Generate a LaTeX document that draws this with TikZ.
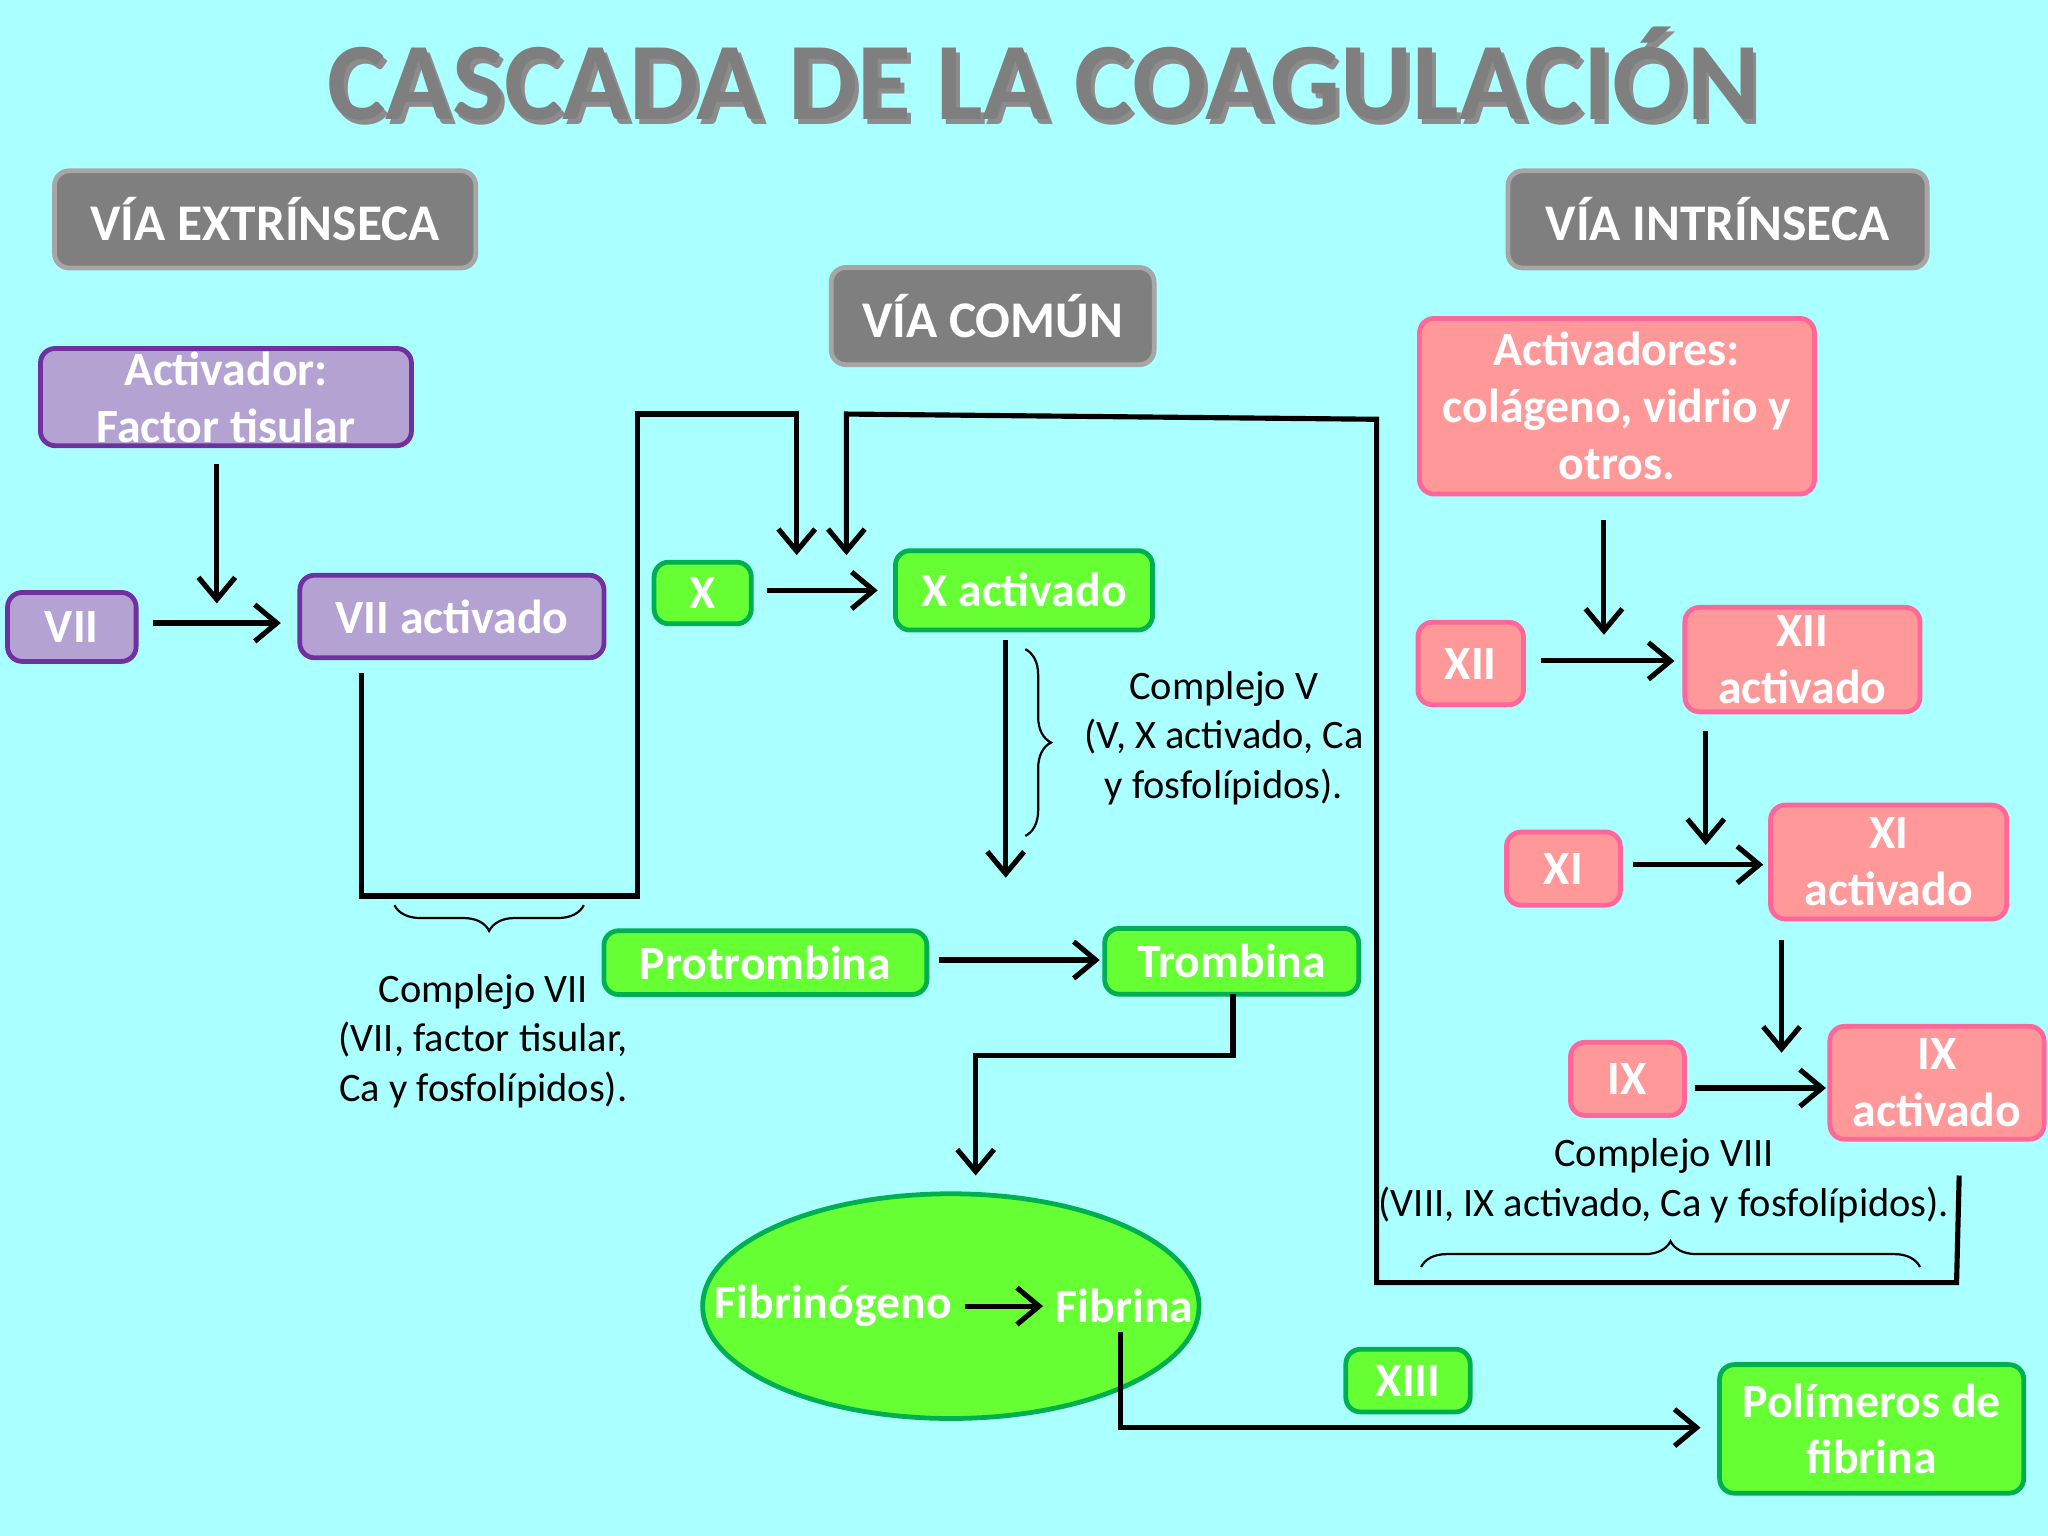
\documentclass[tikz,border=0pt]{standalone}
\usepackage{fontspec}
\setmainfont{Carlito}
\usetikzlibrary{arrows.meta,decorations.pathreplacing,shapes.geometric}
\definecolor{bgcyan}{HTML}{AAFFFF}
\definecolor{grayfill}{HTML}{7F7F7F}
\definecolor{grayline}{HTML}{A6A6A6}
\definecolor{lilac}{HTML}{B4A2D2}
\definecolor{purp}{HTML}{7030A0}
\definecolor{lime}{HTML}{66FF33}
\definecolor{dgreen}{HTML}{00B050}
\definecolor{rose}{HTML}{FF9999}
\definecolor{pinkline}{HTML}{FF6699}
\tikzset{
  box/.style={rounded corners=4pt, line width=1.3pt, align=center,
    text=white, font=\bfseries\fontsize{13}{15.5}\selectfont, inner sep=0pt},
  via/.style={box, fill=grayfill, draw=grayline, font=\bfseries\fontsize{14}{16}\selectfont},
  ext/.style={box, fill=lilac, draw=purp},
  com/.style={box, fill=lime, draw=dgreen},
  int/.style={box, fill=rose, draw=pinkline},
  lbl/.style={align=center, font=\fontsize{11}{13.5}\selectfont},
  link/.style={line width=1.4pt},
  arr/.style={link, -{Straight Barb[length=6pt,width=10pt,line width=1.4pt]}},
  brc/.style={line width=0.6pt, decorate, decoration={brace, amplitude=7pt}},
}
\begin{document}
\begin{tikzpicture}[x=0.0125cm, y=-0.0125cm]
  \fill[bgcyan] (0,0) rectangle (1568,1176);
  \useasboundingbox (0,0) rectangle (1568,1176);

  % title
  \node[text=black!45, font=\bfseries\fontsize{30}{34}\selectfont] at (802,60) {CASCADA DE LA COAGULACIÓN};
  \node[text=grayfill, font=\bfseries\fontsize{30}{34}\selectfont] (title) at (799,56) {CASCADA DE LA COAGULACIÓN};

  % headings
  \node[via, minimum width=4.03cm, minimum height=0.93cm] (vext) at (203,168) {VÍA EXTRÍNSECA};
  \node[via, minimum width=3.09cm, minimum height=0.93cm] (vcom) at (760,242) {VÍA COMÚN};
  \node[via, minimum width=4.01cm, minimum height=0.93cm] (vint) at (1315,168) {VÍA INTRÍNSECA};

  % extrinsic
  \node[ext, minimum width=3.55cm, minimum height=0.93cm] (act) at (173,304) {Activador:\\Factor tisular};
  \node[ext, minimum width=1.23cm, minimum height=0.66cm] (vii) at (55,480) {VII};
  \node[ext, minimum width=2.91cm, minimum height=0.79cm] (viia) at (346,472) {VII activado};

  % common
  \node[com, minimum width=0.93cm, minimum height=0.59cm] (x) at (538,454) {X};
  \node[com, minimum width=2.46cm, minimum height=0.76cm] (xa) at (784,452) {X activado};
  \node[com, minimum width=3.09cm, minimum height=0.61cm] (pro) at (586,737) {Protrombina};
  \node[com, minimum width=2.43cm, minimum height=0.63cm] (tro) at (943,736) {Trombina};
  \node[ellipse, draw=dgreen, fill=lime, line width=1.3pt, minimum width=4.75cm, minimum height=2.15cm] (ell) at (728,1000) {};
  \node[text=white, font=\bfseries\fontsize{13}{15}\selectfont] (fibg) at (638,1000) {Fibrinógeno};
  \node[text=white, font=\bfseries\fontsize{13}{15}\selectfont] (fibr) at (861,1000) {Fibrina};
  \node[com, minimum width=1.19cm, minimum height=0.6cm] (xiii) at (1078,1057) {XIII};
  \node[com, minimum width=2.91cm, minimum height=1.23cm] (pol) at (1433,1094) {Polímeros de\\fibrina};

  % intrinsic
  \node[int, minimum width=3.78cm, minimum height=1.68cm] (acts) at (1238,311) {Activadores:\\colágeno, vidrio y\\otros.};
  \node[int, minimum width=1.01cm, minimum height=0.79cm] (xii) at (1126,508) {XII};
  \node[int, minimum width=2.25cm, minimum height=1.0cm] (xiia) at (1380,505) {XII\\activado};
  \node[int, minimum width=1.09cm, minimum height=0.7cm] (xi) at (1197,665) {XI};
  \node[int, minimum width=2.26cm, minimum height=1.09cm] (xia) at (1446,660) {XI\\activado};
  \node[int, minimum width=1.09cm, minimum height=0.7cm] (ix) at (1246,826) {IX};
  \node[int, minimum width=2.05cm, minimum height=1.08cm] (ixa) at (1483,829) {IX\\activado};

  % labels
  \node[lbl] (c7) at (370,797) {Complejo VII\\(VII, factor tisular,\\Ca y fosfolípidos).};
  \node[lbl] (c5) at (937,565) {Complejo V\\(V, X activado, Ca\\y fosfolípidos).};
  \node[lbl] (c8) at (1274,904) {Complejo VIII\\(VIII, IX activado, Ca y fosfolípidos).};

  % connector points
  \coordinate (a1) at (166,355);
  \coordinate (a2) at (166,462);
  \coordinate (e1) at (277,515);
  \coordinate (e2) at (610,425);
  \coordinate (i1) at (1500,900);
  \coordinate (i2) at (648,425);
  \coordinate (t1) at (944,761);
  \coordinate (t2) at (747,900);
  \coordinate (f1) at (858,1020);
  \coordinate (n1) at (1228,398);
  \coordinate (n2) at (1228,486);
  \coordinate (n3) at (1306,560);
  \coordinate (n4) at (1306,647);
  \coordinate (n5) at (1364,720);
  \coordinate (n6) at (1364,806);

  % extrinsic links
  \draw[arr] (a1) -- (a2);
  \draw[arr] (117,477) -- (215,477);
  \draw[arr] (e1) -- (277,686) -- (488,686) -- (488,317) -- (610,317) -- (e2);

  % intrinsic feedback into X
  \draw[arr] (i1) -- (1498,982) -- (1054,982) -- (1054,321) -- (648,317) -- (i2);

  % common links
  \draw[arr] (587,452) -- (672,452);
  \draw[arr] (770,490) -- (770,672);
  \draw[arr] (719,735) -- (842,735);
  \draw[arr] (t1) -- (944,808) -- (747,808) -- (t2);
  \draw[arr] (fibg.east) -- (fibr.west);
  \draw[arr] (f1) -- (858,1093) -- (1302,1093);

  % intrinsic links
  \draw[arr] (n1) -- (n2);
  \draw[arr] (1180,506) -- (1282,506);
  \draw[arr] (n3) -- (n4);
  \draw[arr] (1250,662) -- (1350,662);
  \draw[arr] (n5) -- (n6);
  \draw[arr] (1298,833) -- (1398,833);

  % braces
  \draw[brc, decoration={mirror}] (302,693) -- (447,693);
  \draw[brc] (785,497) -- (785,640);
  \draw[brc] (1088,970) -- (1470,970);
\end{tikzpicture}
\end{document}
